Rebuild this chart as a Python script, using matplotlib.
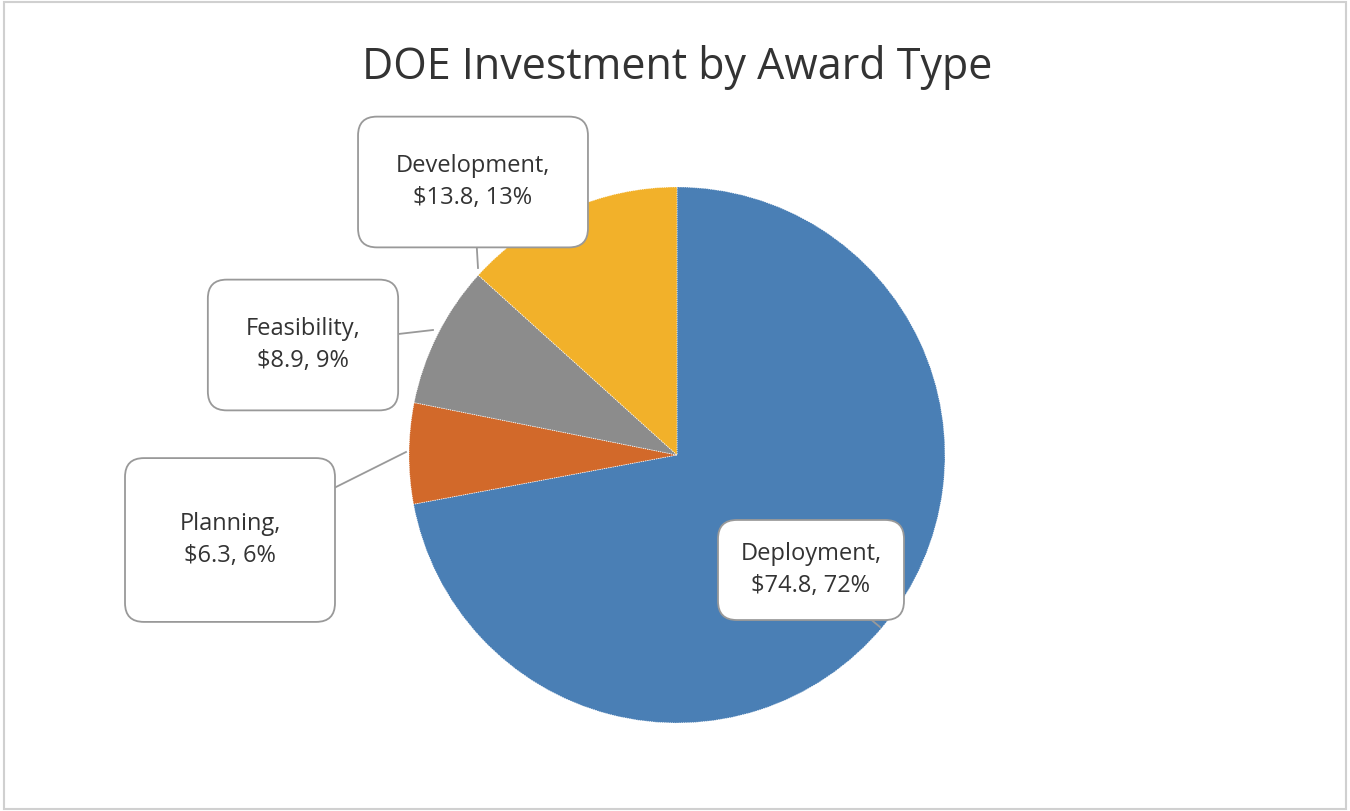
import matplotlib
matplotlib.use("Agg")
import matplotlib.pyplot as plt
from matplotlib.patches import Rectangle

categories = ["Deployment", "Planning", "Feasibility", "Development"]
values = [74.8, 6.3, 8.9, 13.8]
percents = ["72%", "6%", "9%", "13%"]
colors = ["#4a7fb5", "#d2692a", "#8c8c8c", "#f2b12a"]

W, H = 1350, 811
fig = plt.figure(figsize=(13.5, 8.11), dpi=100)
fig.patch.set_facecolor("white")
fig.add_artist(Rectangle((0.003, 0.003), 0.994, 0.994, transform=fig.transFigure,
                         fill=False, edgecolor="#d0d0d0", lw=1.5))

cx, cy, r = 677, 455, 268
ax = fig.add_axes([(cx - r) / W, 1 - (cy + r) / H, 2 * r / W, 2 * r / H])
ax.pie(values, colors=colors, startangle=90, counterclock=False,
       wedgeprops=dict(edgecolor="white", linewidth=0.6, linestyle=":"))
ax.set_aspect("equal")
ax.set_xlim(-1, 1); ax.set_ylim(-1, 1)

fig.text(677 / W, 1 - 68 / H, "DOE Investment by Award Type", ha="center", va="center",
         fontsize=31, family="Open Sans", color="#333333")

font = dict(fontsize=17, family="Open Sans", color="#333333")
boxes = {
    "Development": ((473, 182), (478, 268)),
    "Feasibility": ((303, 345), (433, 330)),
    "Planning": ((230, 540), (406, 452)),
    "Deployment": ((811, 570), (880, 627)),
}
pads = {"Development": 1.6, "Feasibility": 1.6, "Planning": 2.3, "Deployment": 0.95}
for cat, v, p in zip(categories, values, percents):
    (bx, by), (tx, ty) = boxes[cat]
    fig.text(bx / W, 1 - by / H, f"{cat},\n${v}, {p}", ha="center", va="center",
             linespacing=1.4, **font,
             bbox=dict(boxstyle=f"round,pad={pads[cat]},rounding_size=0.8",
                       fc="white", ec="#999999", lw=1.3), zorder=5)
    fig.add_artist(plt.Line2D([bx / W, tx / W], [1 - by / H, 1 - ty / H],
                              transform=fig.transFigure, color="#999999", lw=1.3, zorder=4))

fig.savefig("out.png", dpi=100, facecolor="white")
